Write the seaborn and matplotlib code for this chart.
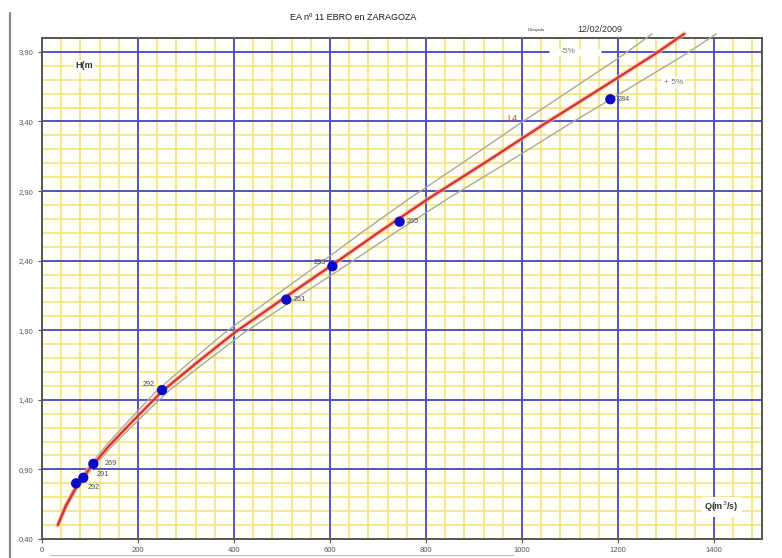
import matplotlib
matplotlib.use("Agg")
import matplotlib.pyplot as plt
from matplotlib.lines import Line2D
from matplotlib.ticker import FuncFormatter, MultipleLocator
import numpy as np
import pandas as pd
import seaborn as sns

# Rating curve L4 (discharge Q in m3/s, stage H in m)
curve_q = [33, 50, 71, 98, 140, 190, 250, 320, 400, 508, 605, 700, 807, 930, 1050, 1170, 1275, 1338]
curve_h = [0.50, 0.64, 0.77, 0.90, 1.07, 1.25, 1.46, 1.66, 1.88, 2.14, 2.37, 2.60, 2.85, 3.12, 3.39, 3.65, 3.88, 4.03]
band_pct = 0.05

# Gaugings
obs_q = [71, 86, 107, 250, 509, 605, 745, 1184]
obs_h = [0.80, 0.84, 0.94, 1.47, 2.12, 2.36, 2.68, 3.56]
obs_id = ["292", "291", "269", "292", "261", "293", "265", "284"]
# label offsets in points (dx, dy) and alignment
obs_off = [(8, -3, "left"), (10, 2, "left"), (8, 0, "left"), (-5, 4, "right"),
           (5, 0, "left"), (-5, 3, "right"), (5, 0, "left"), (5, 0, "left")]

x_ticks = list(range(0, 1401, 200))
y_ticks = [0.40, 0.90, 1.40, 1.90, 2.40, 2.90, 3.40, 3.90]

sns.set_theme(style="white")
plt.rcParams["font.family"] = ["Liberation Sans", "DejaVu Sans"]

W, H = 782, 558
fig = plt.figure(figsize=(W / 100, H / 100), dpi=100)
fig.patch.set_facecolor("white")
ax = fig.add_axes([42 / W, 19 / H, 720 / W, 501 / H])
ax.set_facecolor("#fffff8")
ax.set_axisbelow(True)

ax.set_xlim(0, 1500)
ax.set_ylim(0.40, 4.00)
ax.set_xticks(x_ticks)
ax.set_yticks(y_ticks)
ax.xaxis.set_minor_locator(MultipleLocator(40))
ax.yaxis.set_minor_locator(MultipleLocator(0.1))
ax.xaxis.set_major_formatter(FuncFormatter(lambda v, p: f"{v:.0f}"))
ax.yaxis.set_major_formatter(FuncFormatter(lambda v, p: f"{v:.2f}".replace(".", ",")))

# yellow millimetre grid, blue major grid on top of it
ax.grid(which="minor", color="#f3e274", lw=1.1)
ax.grid(which="major", visible=False)
for xv in x_ticks[1:]:
    ax.axvline(xv, color="#5252c6", lw=1.4, zorder=0.8)
for yv in y_ticks[1:]:
    ax.axhline(yv, color="#5252c6", lw=1.4, zorder=0.8)

ax.tick_params(axis="both", which="major", labelsize=5.5, labelcolor="#555555",
               length=3, width=0.8, color="#555555", direction="out",
               bottom=True, left=True, pad=3)
ax.tick_params(axis="both", which="minor", length=0)
for s in ax.spines.values():
    s.set_color("#555555")
    s.set_linewidth(1.4)

df_curve = pd.DataFrame({"Q": curve_q, "H": curve_h})
df_curve["Qlo"] = df_curve["Q"] * (1 - band_pct)
df_curve["Qhi"] = df_curve["Q"] * (1 + band_pct)

# tolerance band +-5 %
for col in ["Qlo", "Qhi"]:
    sns.lineplot(data=df_curve, x=col, y="H", sort=False, estimator=None,
                 color="#a8ab98", lw=1.0, ax=ax, zorder=3, clip_on=False)
# rating curve with a soft halo
sns.lineplot(data=df_curve, x="Q", y="H", sort=False, estimator=None,
             color="#f0b8a8", lw=3.6, alpha=0.6, ax=ax, zorder=3.5, clip_on=False)
sns.lineplot(data=df_curve, x="Q", y="H", sort=False, estimator=None,
             color="#d9342b", lw=1.7, ax=ax, zorder=4, clip_on=False)

df_obs = pd.DataFrame({"Q": obs_q, "H": obs_h, "id": obs_id})
sns.scatterplot(data=df_obs, x="Q", y="H", color="#0a0ac8", s=55,
                edgecolor="none", ax=ax, zorder=5)
for q, h, t, (dx, dy, ha) in zip(obs_q, obs_h, obs_id, obs_off):
    ax.annotate(t, (q, h), xytext=(dx, dy), textcoords="offset points",
                ha=ha, va="center", fontsize=5.2, color="#4a4a4a", zorder=6)

ax.set_xlabel("")
ax.set_ylabel("")

# annotations inside the plot
ax.hlines(3.90, 1057, 1165, color="white", lw=5, zorder=1)
ax.text(1080, 3.90, "-5%", fontsize=6, color="#777777", va="center", ha="left", zorder=2)
ax.text(1295, 3.68, "+ 5%", fontsize=6, color="#777777", va="center", ha="left", zorder=2,
        bbox=dict(facecolor="white", edgecolor="none", pad=1.5))
ax.text(970, 3.42, "L4", fontsize=6.5, color="#d84a30", va="center", ha="left", zorder=6)
ax.text(70, 3.80, "H(m", fontsize=6.5, fontweight="bold", color="#333333",
        va="center", ha="left", zorder=2,
        bbox=dict(facecolor="white", edgecolor="none", pad=1))
ax.text(1380, 0.63, "Q(m$^3$/s)", fontsize=6.5, fontweight="bold", color="#333333",
        va="center", ha="left", zorder=2,
        bbox=dict(facecolor="white", edgecolor="none", pad=2))

# header
fig.text(353 / W, 1 - 18 / H, "EA nº 11 EBRO en ZARAGOZA", fontsize=6.5,
         color="#1a1a1a", ha="center", va="center")
fig.text(536 / W, 1 - 30 / H, "Dibujado", fontsize=3.2, color="#444444",
         ha="center", va="center")
fig.text(600 / W, 1 - 30 / H, "12/02/2009", fontsize=6.5, color="#333333",
         ha="center", va="center")

# page frame lines
fig.add_artist(Line2D([10 / W, 10 / W], [0, 1 - 13 / H], color="#8a8a8a", lw=1.6))
fig.add_artist(Line2D([50 / W, 513 / W], [3 / H, 3 / H], color="#bbbbbb", lw=0.8))

fig.savefig("out.png", dpi=100, facecolor="white")
